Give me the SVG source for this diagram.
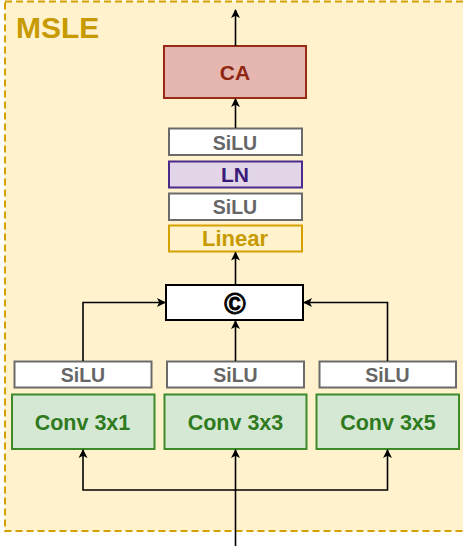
<svg xmlns="http://www.w3.org/2000/svg" width="463" height="546" viewBox="0 0 463 546">
<style>
text{font-family:"Liberation Sans",Arial,sans-serif;font-weight:bold;text-anchor:middle}
.silu rect{fill:#ffffff;stroke:#6b6b6b;stroke-width:2}
.silu text{fill:#666666;font-size:19.5px}
.conv rect{fill:#d5e8d4;stroke:#3c8a28;stroke-width:2}
.conv text{fill:#2f7a1e;font-size:21.5px}
.edge{fill:none;stroke:#000;stroke-width:1.6}
</style>
<defs>
<marker id="arr" markerWidth="9" markerHeight="10" refX="8" refY="5" orient="auto" markerUnits="userSpaceOnUse">
<path d="M0,0.5 L9,5 L0,9.5 L2.2,5 Z" fill="#000"/>
</marker>
</defs>
<g id="container">
<rect x="5" y="1.5" width="470" height="529.5" fill="#fff2cc" stroke="#d6a000" stroke-width="2" stroke-dasharray="7 4"/>
<text x="16" y="38" style="fill:#c79a00;font-size:30px;text-anchor:start">MSLE</text>
</g>
<g id="ca">
<rect x="164" y="46" width="142" height="52" fill="#e6b7b0" stroke="#9a2a14" stroke-width="2"/>
<text x="235" y="80" style="fill:#8e2712;font-size:21px">CA</text>
</g>
<g id="silu-top" class="silu">
<rect x="169" y="128.5" width="133" height="26.5"/>
<text x="235" y="150">SiLU</text>
</g>
<g id="ln">
<rect x="169" y="161.5" width="133" height="26" fill="#e1d5e7" stroke="#4a2a8a" stroke-width="2"/>
<text x="235" y="182" style="fill:#3a1a78;font-size:21px">LN</text>
</g>
<g id="silu-mid" class="silu">
<rect x="169" y="193.5" width="133" height="26.5"/>
<text x="235" y="214">SiLU</text>
</g>
<g id="linear">
<rect x="169" y="225.5" width="133" height="26" fill="#fff2cc" stroke="#d6a000" stroke-width="2"/>
<text x="235" y="246" style="fill:#c79a00;font-size:22px">Linear</text>
</g>
<g id="concat">
<rect x="166" y="285" width="137" height="35" fill="#ffffff" stroke="#000" stroke-width="2"/>
<text x="235" y="313.5" style="fill:#000;stroke:#000;stroke-width:0.9;font-size:29px">©</text>
</g>
<g id="silu-1" class="silu">
<rect x="14.5" y="361.5" width="137" height="26"/>
<text x="83" y="382">SiLU</text>
</g>
<g id="silu-2" class="silu">
<rect x="167" y="361.5" width="137" height="26"/>
<text x="235.5" y="382">SiLU</text>
</g>
<g id="silu-3" class="silu">
<rect x="319.5" y="361.5" width="136.5" height="26"/>
<text x="387.5" y="382">SiLU</text>
</g>
<g id="conv-3x1" class="conv">
<rect x="12" y="394.5" width="142.5" height="54.5"/>
<text x="82.5" y="430">Conv 3x1</text>
</g>
<g id="conv-3x3" class="conv">
<rect x="164.5" y="394.5" width="142" height="54.5"/>
<text x="235.5" y="430">Conv 3x3</text>
</g>
<g id="conv-3x5" class="conv">
<rect x="316.5" y="394.5" width="142.5" height="54.5"/>
<text x="388" y="430">Conv 3x5</text>
</g>
<g id="connectors">
<path class="edge" d="M235.5,546 L235.5,450" marker-end="url(#arr)"/>
<path class="edge" d="M235.5,490 L83,490 L83,450" marker-end="url(#arr)"/>
<path class="edge" d="M235.5,490 L387.5,490 L387.5,450" marker-end="url(#arr)"/>
<path class="edge" d="M83,361 L83,302.5 L165,302.5" marker-end="url(#arr)"/>
<path class="edge" d="M387.5,361 L387.5,302.5 L304,302.5" marker-end="url(#arr)"/>
<path class="edge" d="M235.5,361 L235.5,321" marker-end="url(#arr)"/>
<path class="edge" d="M235.5,285 L235.5,252.5" marker-end="url(#arr)"/>
<path class="edge" d="M235.5,128 L235.5,99" marker-end="url(#arr)"/>
<path class="edge" d="M235.5,46 L235.5,10" marker-end="url(#arr)"/>
</g>
</svg>
